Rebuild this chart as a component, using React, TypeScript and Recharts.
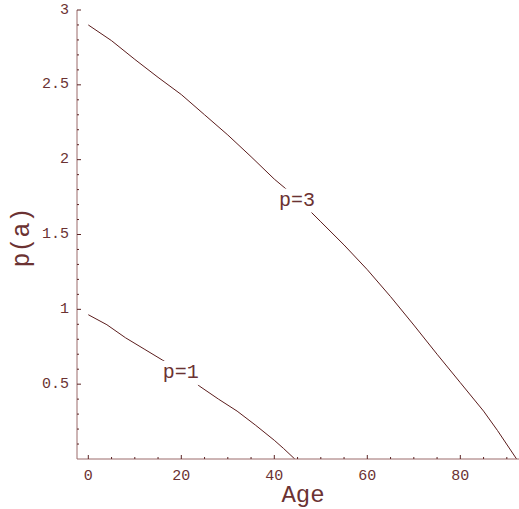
import React from 'react';
import { LineChart, Line, XAxis, YAxis, ReferenceDot } from 'recharts';

// p = 3 curve
const p3Ages = [0, 5, 10, 15, 20, 25, 30, 35, 40, 45, 50, 55, 60, 65, 70, 75, 80, 85, 88, 92.1];
const p3Values = [2.9, 2.795, 2.67, 2.55, 2.435, 2.3, 2.165, 2.02, 1.87, 1.74, 1.585, 1.43, 1.265, 1.085, 0.895, 0.7, 0.51, 0.32, 0.19, 0];

// p = 1 curve
const p1Ages = [0, 4, 8, 12, 16, 20, 24, 28, 32, 36, 40, 42, 44.4];
const p1Values = [0.964, 0.897, 0.81, 0.735, 0.66, 0.585, 0.485, 0.4, 0.32, 0.225, 0.125, 0.07, 0];

const xMajorTicks = [0, 20, 40, 60, 80];
const xMinorTicks = [5, 10, 15, 25, 30, 35, 45, 50, 55, 65, 70, 75, 85, 90];
const yMajorTicks = [0.5, 1, 1.5, 2, 2.5, 3];
const yMinorTicks = [
  0.1, 0.2, 0.3, 0.4, 0.6, 0.7, 0.8, 0.9, 1.1, 1.2, 1.3, 1.4, 1.6, 1.7, 1.8, 1.9,
  2.1, 2.2, 2.3, 2.4, 2.6, 2.7, 2.8, 2.9,
];

const curveLabels = [
  { text: 'p=3', age: 44.9, value: 1.727 },
  { text: 'p=1', age: 19.9, value: 0.575 },
];

const p3Data = p3Ages.map((age, i) => ({ age, value: p3Values[i] }));
const p1Data = p1Ages.map((age, i) => ({ age, value: p1Values[i] }));
const xTicks = [...xMajorTicks, ...xMinorTicks].sort((a, b) => a - b);
const yTicks = [...yMajorTicks, ...yMinorTicks].sort((a, b) => a - b);

const FRAME = '#9b6b6b';
const TICK = '#5b2424';
const CURVE = '#5b1c1c';
const TEXT = '#6b3232';
const FONT = '"Courier New", Courier, "Liberation Mono", monospace';

const BottomTick = ({ x, y, payload }: any) => {
  const major = xMajorTicks.includes(payload.value);
  return (
    <g>
      <line x1={x} x2={x} y1={y} y2={y - (major ? 4 : 2)} stroke={TICK} />
      {major && (
        <text x={x} y={y + 17} textAnchor="middle" dominantBaseline="central"
          fontFamily={FONT} fontSize={15} fill={TEXT}>
          {payload.value}
        </text>
      )}
    </g>
  );
};

const TopTick = ({ x, y, payload }: any) => {
  const major = xMajorTicks.includes(payload.value);
  return <line x1={x} x2={x} y1={y} y2={y + (major ? 4 : 2)} stroke={TICK} />;
};

const LeftTick = ({ x, y, payload }: any) => {
  const major = yMajorTicks.includes(payload.value);
  return (
    <g>
      <line x1={x} x2={x + (major ? 4 : 2)} y1={y} y2={y} stroke={TICK} />
      {major && (
        <text x={x - 8} y={y} textAnchor="end" dominantBaseline="central"
          fontFamily={FONT} fontSize={15} fill={TEXT}>
          {payload.value}
        </text>
      )}
    </g>
  );
};

const CurveLabel = ({ cx, cy, text }: any) => (
  <g>
    <rect x={cx - 20} y={cy - 12} width={40} height={24} fill="#fff" />
    <text x={cx} y={cy} textAnchor="middle" dominantBaseline="central"
      fontFamily={FONT} fontSize={20} fill={TEXT}>
      {text}
    </text>
  </g>
);

const YTitle = ({ viewBox }: any) => (
  <text transform={`translate(29, ${viewBox.y + viewBox.height / 2 + 3}) rotate(-90)`}
    textAnchor="middle" fontFamily={FONT} fontSize={25} fill={TEXT}>
    p(a)
  </text>
);

const XTitle = ({ viewBox }: any) => (
  <text x={viewBox.x + viewBox.width / 2 + 4} y={502} textAnchor="middle"
    fontFamily={FONT} fontSize={24} fill={TEXT}>
    Age
  </text>
);

export default function App() {
  return (
    <div style={{ position: 'absolute', left: 0, top: 0, width: 519, height: 509, overflow: 'hidden', background: '#fff' }}>
      <LineChart width={522} height={509} margin={{ top: 10, right: 1, bottom: 0, left: 0 }}>
        <XAxis
          dataKey="age" type="number" domain={[-2.43, 93.05]} allowDataOverflow
          ticks={xTicks} interval={0} height={50}
          tickSize={0} tickMargin={0} tickLine={false}
          axisLine={{ stroke: FRAME }} tick={<BottomTick />}
          label={<XTitle />}
        />
        <XAxis
          xAxisId="top" orientation="top" dataKey="age" type="number"
          domain={[-2.43, 93.05]} allowDataOverflow ticks={xTicks} interval={0}
          height={0} tickSize={0} tickMargin={0} tickLine={false}
          axisLine={{ stroke: FRAME }} tick={<TopTick />}
        />
        <YAxis
          type="number" domain={[0, 3]} allowDataOverflow ticks={yTicks} interval={0}
          width={77} tickSize={0} tickMargin={0} tickLine={false}
          axisLine={{ stroke: FRAME }} tick={<LeftTick />}
          label={<YTitle />}
        />
        <Line data={p3Data} dataKey="value" type="linear" stroke={CURVE} strokeWidth={1}
          dot={false} activeDot={false} isAnimationActive={false} />
        <Line data={p1Data} dataKey="value" type="linear" stroke={CURVE} strokeWidth={1}
          dot={false} activeDot={false} isAnimationActive={false} />
        {curveLabels.map((l) => (
          <ReferenceDot key={l.text} x={l.age} y={l.value} r={0}
            shape={(props: any) => <CurveLabel {...props} text={l.text} />} />
        ))}
      </LineChart>
    </div>
  );
}
